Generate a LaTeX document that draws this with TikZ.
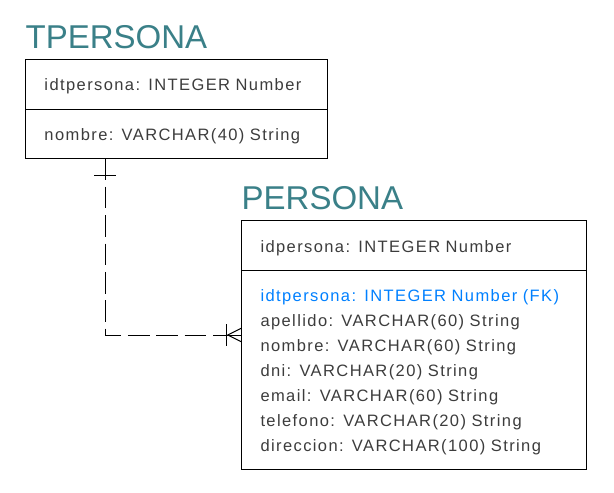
\documentclass[tikz,border=0pt]{standalone}
\usepackage{fontspec}
\setmainfont{Liberation Sans}
\newfontfamily\attrfont[LetterSpace=8.5]{Liberation Sans}
\usetikzlibrary{positioning, calc}
\definecolor{titleteal}{RGB}{58,128,136}
\definecolor{attrgray}{RGB}{60,60,60}
\definecolor{fkblue}{RGB}{0,128,255}

\begin{document}
\begin{tikzpicture}[
    x=1pt, y=-1pt,
    every node/.style={inner sep=0pt, outer sep=0pt},
    enttitle/.style={font=\fontsize{33}{36}\selectfont, text=titleteal, anchor=base west},
    comp/.style={draw, line width=1pt, align=left, inner xsep=18.8pt, text=attrgray,
        font=\attrfont\fontsize{16.5}{25}\selectfont, text height=14.5pt, text depth=1.5pt, text width=#1},
    keycomp/.style={comp=#1, minimum height=50pt},
    rel/.style={line width=1pt, dash pattern=on 21.7pt off 6.7pt},
    relend/.style={line width=1pt},
]
\useasboundingbox (0,0) rectangle (614,493);

% ---------- TPERSONA ----------
\node[keycomp=264pt, anchor=north west] (tpk) at (25.7,59.3) {idtpersona: INTEGER Number};
\node[comp=264pt, minimum height=49pt, below=0pt of tpk] (tattr) {nombre: VARCHAR(40) String};
\node[enttitle] (ttitle) at ([yshift=11pt]tpk.north west) {TPERSONA};

% ---------- PERSONA ----------
\node[keycomp=306.7pt, anchor=north west] (ppk) at (241.7,220.7) {idpersona: INTEGER Number};
\node[comp=306.7pt, text depth=151.5pt, minimum height=199pt, below=0pt of ppk] (pattr)
    {\textcolor{fkblue}{\mbox{idtpersona: INTEGER Number (FK)}}\\
     apellido: VARCHAR(60) String\\
     nombre: VARCHAR(60) String\\
     dni: VARCHAR(20) String\\
     email: VARCHAR(60) String\\
     telefono: VARCHAR(20) String\\
     direccion: VARCHAR(100) String};
\node[enttitle] (ptitle) at ([yshift=11pt]ppk.north west) {PERSONA};

% ---------- relationship (one to many, non-identifying) ----------
\coordinate (tpend) at ([xshift=80pt]tattr.south west);
\coordinate (fkend) at ([yshift=-64.3pt]pattr.north west);
\draw[rel] (tpend) |- (fkend);
% one side
\draw[relend] ([xshift=-11.7pt,yshift=-17pt]tpend) -- ([xshift=10.3pt,yshift=-17pt]tpend);
% many side
\draw[relend] ([xshift=-15pt]fkend) -- (fkend);
\draw[relend] ([xshift=-15pt,yshift=11pt]fkend) -- ([xshift=-15pt,yshift=-11pt]fkend);
\draw[relend] (fkend) ++(0,-7) -- ([xshift=-14pt]fkend) -- ([yshift=-7pt]fkend);

\end{tikzpicture}
\end{document}
